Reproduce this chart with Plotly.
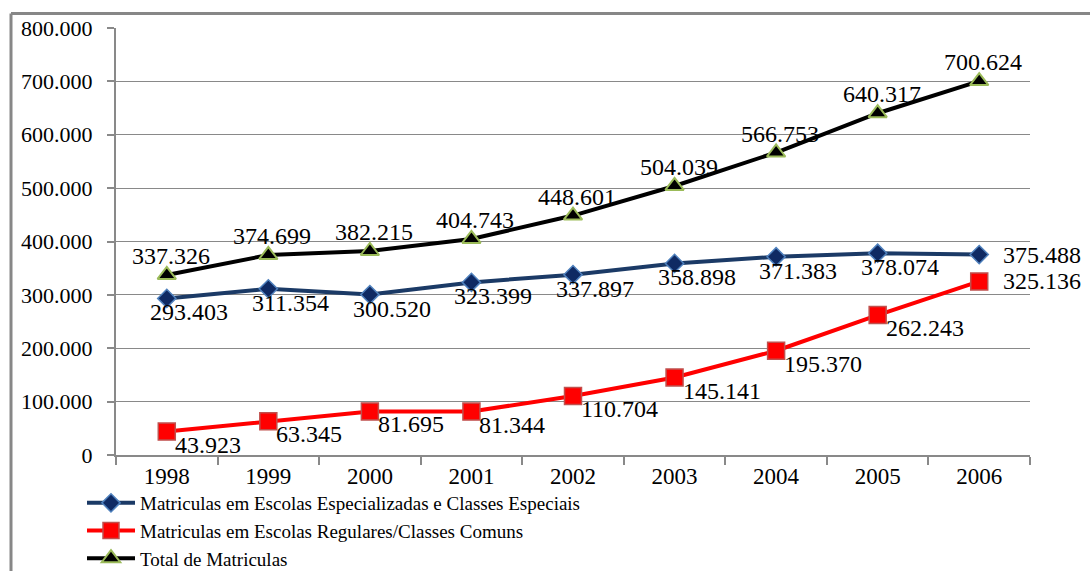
import plotly.graph_objects as go

years = ["1998", "1999", "2000", "2001", "2002", "2003", "2004", "2005", "2006"]
especiais = [293403, 311354, 300520, 323399, 337897, 358898, 371383, 378074, 375488]
regulares = [43923, 63345, 81695, 81344, 110704, 145141, 195370, 262243, 325136]
total = [337326, 374699, 382215, 404743, 448601, 504039, 566753, 640317, 700624]
y_ticks = [0, 100000, 200000, 300000, 400000, 500000, 600000, 700000, 800000]

names = [
    "Matriculas em Escolas Especializadas e Classes Especiais",
    "Matriculas em Escolas Regulares/Classes Comuns",
    "Total de Matriculas",
]

FONT = "'Times New Roman', 'Liberation Serif', 'DejaVu Serif', serif"
GRID = "#898989"

W, H = 1090, 571
L, R, T, B = 116, 60, 28, 116
pw, ph = W - L - R, H - T - B

fig = go.Figure()
fig.add_trace(go.Scatter(
    x=years, y=especiais, name=names[0], mode="lines+markers",
    line=dict(color="#1B3A66", width=4),
    marker=dict(symbol="diamond", size=14, color="#0F2A63",
                line=dict(color="#4F81BD", width=1.5)),
))
fig.add_trace(go.Scatter(
    x=years, y=regulares, name=names[1], mode="lines+markers",
    line=dict(color="#FF0000", width=4),
    marker=dict(symbol="square", size=17, color="#FF0000",
                line=dict(color="#C0504D", width=1.5)),
))
fig.add_trace(go.Scatter(
    x=years, y=total, name=names[2], mode="lines+markers",
    line=dict(color="#000000", width=4),
    marker=dict(symbol="triangle-up", size=16, color="#000000",
                line=dict(color="#9BBB59", width=2)),
))


def fmt(v):
    return f"{v:,}".replace(",", ".")


annotations = []
n = len(years)
for i, v in enumerate(especiais):
    if i == n - 1:
        annotations.append(dict(x=i, y=v, text=fmt(v), xanchor="left", yanchor="middle",
                                xshift=22, yshift=0))
    else:
        annotations.append(dict(x=i, y=v, text=fmt(v), xanchor="center", yanchor="middle",
                                xshift=22, yshift=-14))
for i, v in enumerate(regulares):
    if i == n - 1:
        annotations.append(dict(x=i, y=v, text=fmt(v), xanchor="left", yanchor="middle",
                                xshift=22, yshift=0))
    else:
        annotations.append(dict(x=i, y=v, text=fmt(v), xanchor="left", yanchor="middle",
                                xshift=6, yshift=-13))
for i, v in enumerate(total):
    annotations.append(dict(x=i, y=v, text=fmt(v), xanchor="center", yanchor="middle",
                            xshift=4, yshift=19))
for a in annotations:
    a.update(xref="x", yref="y", showarrow=False,
             font=dict(family=FONT, size=24, color="#000000"))

# outer frame (left and top edges visible)
fx0 = (11 - L) / pw
fy1 = (H - B - 13.5) / ph
shapes = [
    dict(type="line", xref="paper", yref="paper", x0=fx0, x1=fx0, y0=-1, y1=fy1,
         line=dict(color="#878787", width=3)),
    dict(type="line", xref="paper", yref="paper", x0=fx0, x1=1.2, y0=fy1, y1=fy1,
         line=dict(color="#878787", width=3)),
]

fig.update_layout(
    width=W, height=H,
    margin=dict(l=L, r=R, t=T, b=B, autoexpand=False),
    paper_bgcolor="white", plot_bgcolor="white",
    separators=",.",
    font=dict(family=FONT, color="#000000"),
    annotations=annotations,
    shapes=shapes,
    showlegend=True,
    legend=dict(
        x=(82 - L) / pw, y=(H - B - 484) / ph, xanchor="left", yanchor="top",
        orientation="v", font=dict(family=FONT, size=19, color="#000000"),
        bgcolor="rgba(0,0,0,0)", tracegroupgap=0, itemwidth=48,
    ),
    xaxis=dict(
        type="category", range=[-0.5, 8.5], showgrid=False,
        showline=True, linecolor=GRID, linewidth=1.5,
        ticks="outside", tickson="boundaries", ticklen=8, tickcolor=GRID, tickwidth=1.5,
        tickfont=dict(family=FONT, size=23, color="#000000"),
        fixedrange=True,
    ),
    yaxis=dict(
        range=[0, 800000], tickvals=y_ticks, tickformat=",",
        showgrid=True, gridcolor=GRID, gridwidth=1,
        showline=True, linecolor=GRID, linewidth=2,
        ticks="outside", ticklen=7, tickcolor=GRID, tickwidth=1.5,
        tickfont=dict(family=FONT, size=22, color="#000000"),
        ticklabelstandoff=10,
        zeroline=False, fixedrange=True,
    ),
)

fig.write_html("out.html")
